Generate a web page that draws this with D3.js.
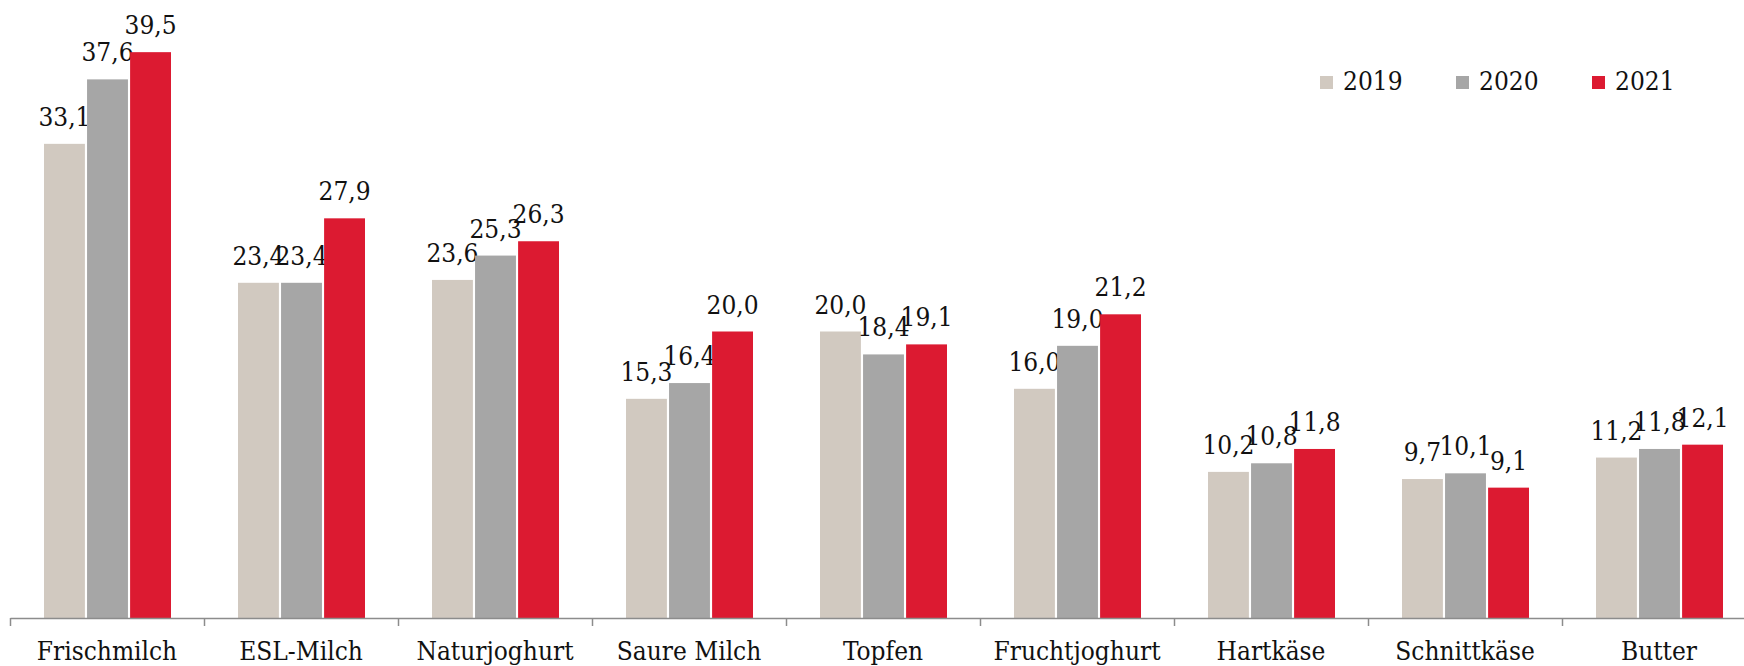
<!DOCTYPE html>
<meta charset="utf-8">
<script src="https://d3js.org/d3.v7.min.js"></script>
<style>
  body { margin: 0; background: #fff; }
  text { font-family: "DejaVu Serif Condensed", "DejaVu Serif", serif; font-stretch: condensed; fill: #111; }
</style>
<body>
<div id="chart"></div>
<script>
var categories = ["Frischmilch", "ESL-Milch", "Naturjoghurt", "Saure Milch", "Topfen",
                  "Fruchtjoghurt", "Hartkäse", "Schnittkäse", "Butter"];
var years = ["2019", "2020", "2021"];
var values2019 = [33.1, 23.4, 23.6, 15.3, 20.0, 16.0, 10.2, 9.7, 11.2];
var values2020 = [37.6, 23.4, 25.3, 16.4, 18.4, 19.0, 10.8, 10.1, 11.8];
var values2021 = [39.5, 27.9, 26.3, 20.0, 19.1, 21.2, 11.8, 9.1, 12.1];
var colors = ["#d1c9c0", "#a6a6a6", "#dc1a31"];

var series = [values2019, values2020, values2021];

var width = 1744, height = 666;
var baseY = 618;

var svg = d3.select("#chart")
  .append("svg")
    .attr("width", width)
    .attr("height", height);

var x = d3.scaleBand()
  .domain(categories)
  .range([10, 10 + 9 * 194]);

var x1 = d3.scaleBand()
  .domain(years)
  .range([34, 161])
  .paddingInner(0.05);

var y = d3.scaleLinear()
  .domain([0, 40])
  .range([baseY, 45]);

// bars + labels
series.forEach(function(vals, si) {
  var g = svg.append("g");
  g.selectAll("rect")
    .data(vals)
    .enter().append("rect")
      .attr("x", function(d, i) { return x(categories[i]) + x1(years[si]); })
      .attr("y", function(d) { return y(d); })
      .attr("width", x1.bandwidth())
      .attr("height", function(d) { return baseY - y(d); })
      .attr("fill", colors[si]);
  g.selectAll("text")
    .data(vals)
    .enter().append("text")
      .attr("x", function(d, i) { return x(categories[i]) + x1(years[si]) + x1.bandwidth() / 2; })
      .attr("y", function(d) { return y(d) - 18; })
      .attr("text-anchor", "middle")
      .style("font-size", "26px")
      .text(function(d) { return d.toFixed(1).replace(".", ","); });
});

// axis line with boundary ticks
var xb = d3.scaleLinear().domain([0, 9]).range(x.range());
var axisG = svg.append("g")
  .attr("transform", "translate(0," + baseY + ")")
  .call(d3.axisBottom(xb).ticks(9).tickSize(8).tickSizeOuter(0).tickFormat(""));
axisG.select(".domain").attr("stroke", "#8c8c8c").attr("stroke-width", 1.5);
axisG.selectAll(".tick line").attr("stroke", "#8c8c8c").attr("stroke-width", 1.5);

// category labels
var labG = svg.append("g")
  .attr("transform", "translate(0," + baseY + ")")
  .call(d3.axisBottom(x).tickSize(0));
labG.select(".domain").remove();
labG.selectAll("text")
  .attr("dy", null)
  .attr("y", 42)
  .style("font-size", "26px")
  .style("font-family", "'DejaVu Serif Condensed', 'DejaVu Serif', serif")
  .attr("fill", "#111");

// legend
var legend = svg.append("g");
years.forEach(function(yr, i) {
  legend.append("rect")
    .attr("x", 1320 + i * 136)
    .attr("y", 76)
    .attr("width", 13)
    .attr("height", 13)
    .attr("fill", colors[i]);
  legend.append("text")
    .attr("x", 1343 + i * 136)
    .attr("y", 90)
    .style("font-size", "26px")
    .text(yr);
});
</script>
</body>
